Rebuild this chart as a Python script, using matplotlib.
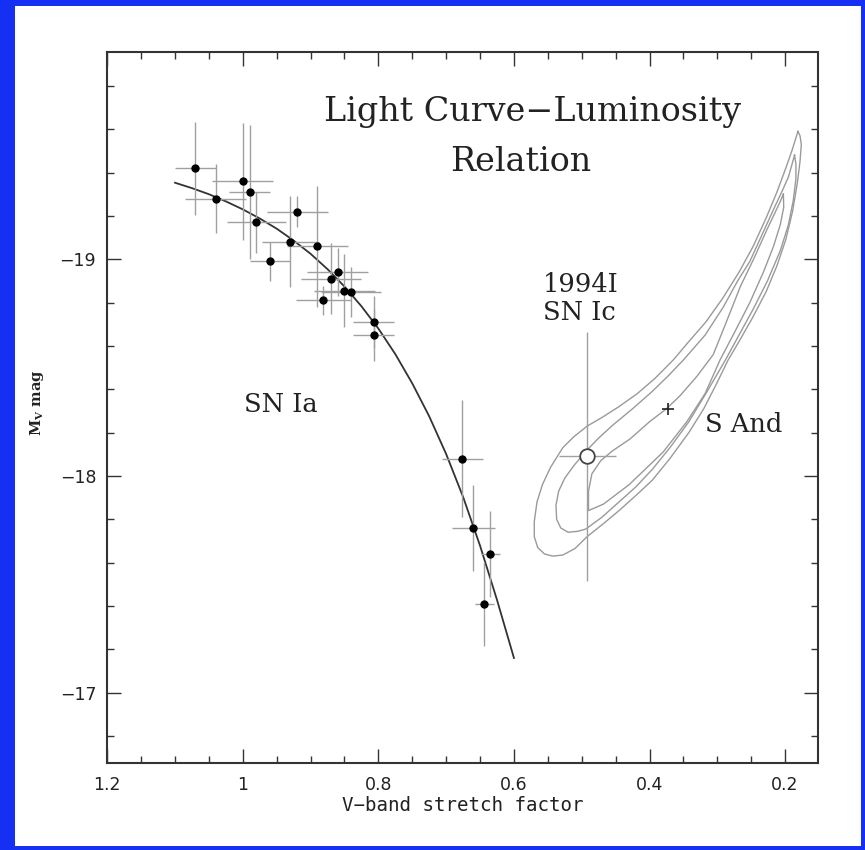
import matplotlib
matplotlib.use("Agg")
import matplotlib.pyplot as plt
from matplotlib.patches import Rectangle
from matplotlib.ticker import MultipleLocator

# SN Ia sample (stretch factor, M_V) with errors
stretch = [1.070, 1.040, 1.000, 0.990, 0.980, 0.960, 0.930, 0.920, 0.890, 0.881,
           0.870, 0.860, 0.850, 0.840, 0.807, 0.807, 0.676, 0.660, 0.635, 0.644]
stretch_err = [0.030, 0.045, 0.045, 0.030, 0.043, 0.030, 0.042, 0.045, 0.045, 0.041,
               0.044, 0.045, 0.045, 0.044, 0.030, 0.030, 0.030, 0.032, 0.014, 0.014]
mag = [-19.42, -19.28, -19.36, -19.31, -19.17, -18.99, -19.08, -19.22, -19.06, -18.81,
       -18.91, -18.94, -18.855, -18.85, -18.71, -18.65, -18.08, -17.76, -17.64, -17.41]
mag_err = [0.215, 0.16, 0.27, 0.31, 0.14, 0.09, 0.21, 0.07, 0.28, 0.067,
           0.165, 0.11, 0.17, 0.115, 0.12, 0.12, 0.27, 0.20, 0.20, 0.195]

# fitted relation
curve_s = [1.100, 1.075, 1.050, 1.025, 1.000, 0.975, 0.950, 0.925, 0.900, 0.875, 0.850,
           0.825, 0.800, 0.775, 0.750, 0.725, 0.700, 0.675, 0.650, 0.625, 0.600]
curve_m = [-19.353, -19.328, -19.300, -19.267, -19.230, -19.188, -19.141, -19.086, -19.025,
           -18.954, -18.874, -18.783, -18.680, -18.562, -18.427, -18.275, -18.101, -17.903,
           -17.678, -17.428, -17.160]

# SN 1994I
ic_s, ic_serr = 0.492, 0.042
ic_m, ic_merr = -18.09, 0.575

# S And best fit
sand_s, sand_m = 0.372, -18.31

# confidence contours for S And
outer_s = [0.181, 0.190, 0.199, 0.212, 0.228, 0.247, 0.268, 0.292, 0.317, 0.342, 0.365,
           0.392, 0.418, 0.445, 0.470, 0.492, 0.512, 0.528, 0.546, 0.558, 0.566, 0.570,
           0.570, 0.565, 0.555, 0.543, 0.528, 0.510, 0.492, 0.468, 0.445, 0.420, 0.396,
           0.370, 0.342, 0.320, 0.302, 0.284, 0.268, 0.248, 0.228, 0.212, 0.199, 0.189,
           0.182, 0.178, 0.176, 0.178, 0.181]
outer_m = [-19.59, -19.50, -19.42, -19.31, -19.19, -19.06, -18.94, -18.82, -18.71, -18.62,
           -18.535, -18.45, -18.38, -18.32, -18.27, -18.23, -18.18, -18.13, -18.04, -17.96,
           -17.88, -17.79, -17.72, -17.67, -17.64, -17.63, -17.635, -17.665, -17.72, -17.78,
           -17.84, -17.91, -17.98, -18.08, -18.20, -18.31, -18.42, -18.535, -18.62, -18.73,
           -18.85, -18.97, -19.09, -19.22, -19.35, -19.45, -19.53, -19.57, -19.59]
mid_s = [0.186, 0.195, 0.205, 0.217, 0.233, 0.252, 0.270, 0.291, 0.318, 0.350, 0.373,
         0.396, 0.425, 0.454, 0.475, 0.492, 0.511, 0.525, 0.534, 0.538, 0.537, 0.531,
         0.520, 0.505, 0.494, 0.470, 0.445, 0.420, 0.396, 0.370, 0.342, 0.315, 0.288,
         0.268, 0.247, 0.226, 0.207, 0.195, 0.188, 0.184, 0.184, 0.186]
mid_m = [-19.48, -19.38, -19.31, -19.23, -19.12, -18.99, -18.90, -18.78, -18.65, -18.535,
         -18.46, -18.39, -18.31, -18.235, -18.175, -18.12, -18.05, -17.99, -17.93, -17.865,
         -17.80, -17.76, -17.74, -17.745, -17.755, -17.81, -17.88, -17.95, -18.03, -18.13,
         -18.25, -18.39, -18.535, -18.65, -18.77, -18.90, -19.04, -19.16, -19.27, -19.37,
         -19.44, -19.48]
inner_s = [0.2025, 0.208, 0.227, 0.245, 0.266, 0.288, 0.306, 0.330, 0.355, 0.375, 0.400,
           0.429, 0.455, 0.472, 0.485, 0.490, 0.490, 0.468, 0.430, 0.380, 0.345, 0.318,
           0.296, 0.275, 0.252, 0.232, 0.217, 0.207, 0.202, 0.2025]
inner_m = [-19.30, -19.26, -19.135, -19.01, -18.874, -18.70, -18.56, -18.46, -18.37, -18.31,
           -18.25, -18.17, -18.115, -18.07, -18.01, -17.93, -17.84, -17.87, -17.96, -18.11,
           -18.25, -18.38, -18.535, -18.66, -18.80, -18.94, -19.06, -19.16, -19.24, -19.30]

fig = plt.figure(figsize=(8.65, 8.5), dpi=100, facecolor="#1530f2")
fig.add_artist(Rectangle((15 / 865, 4 / 850), 846 / 865, 840 / 850,
                         transform=fig.transFigure, facecolor="white",
                         edgecolor="none", zorder=0))

ax = fig.add_axes([0.124, 0.102, 0.822, 0.8365])
ax.set_xlim(1.2, 0.151)
ax.set_ylim(-16.674, -19.955)

for cs, cm in [(outer_s, outer_m), (mid_s, mid_m), (inner_s, inner_m)]:
    ax.plot(cs, cm, color="#9a9a9a", lw=1.0, zorder=1)

ax.plot(curve_s, curve_m, color="#333333", lw=1.3, zorder=2)

ax.errorbar(stretch, mag, xerr=stretch_err, yerr=mag_err, fmt="o", color="black",
            ms=5, ecolor="#a0a0a0", elinewidth=1.0, capsize=0, zorder=3)

ax.errorbar([ic_s], [ic_m], xerr=[ic_serr], yerr=[ic_merr], fmt="o", mfc="white",
            mec="#444444", mew=1.3, ms=10.5, ecolor="#a0a0a0", elinewidth=1.0,
            capsize=0, zorder=4)
ax.plot([sand_s], [sand_m], "+", color="#222222", ms=9, mew=1.2, zorder=4)

serif = "DejaVu Serif"
ax.text(0.572, -19.68, "Light Curve\u2212Luminosity", family=serif, fontsize=24,
        ha="center", va="center", color="#222222")
ax.text(0.590, -19.45, "Relation", family=serif, fontsize=24,
        ha="center", va="center", color="#222222")
ax.text(0.944, -18.33, "SN Ia", family=serif, fontsize=18.5, ha="center", va="center",
        color="#222222")
ax.text(0.501, -18.885, "1994I", family=serif, fontsize=18.5, ha="center", va="center",
        color="#222222")
ax.text(0.503, -18.755, "SN Ic", family=serif, fontsize=18.5, ha="center", va="center",
        color="#222222")
ax.text(0.261, -18.236, "S And", family=serif, fontsize=18.5, ha="center", va="center",
        color="#222222")

ax.xaxis.set_major_locator(MultipleLocator(0.2))
ax.xaxis.set_minor_locator(MultipleLocator(0.05))
ax.yaxis.set_major_locator(MultipleLocator(1))
ax.yaxis.set_minor_locator(MultipleLocator(0.2))
ax.set_xticks([1.2, 1.0, 0.8, 0.6, 0.4, 0.2])
ax.set_xticklabels(["1.2", "1", "0.8", "0.6", "0.4", "0.2"])
ax.tick_params(which="both", direction="in", top=True, right=True,
               color="#333333", width=1.0, labelsize=12.5, labelcolor="#222222")
ax.tick_params(which="major", length=10)
ax.tick_params(which="minor", length=5)
ax.tick_params(axis="x", pad=9)
ax.tick_params(axis="y", pad=8)
for sp in ax.spines.values():
    sp.set_linewidth(1.5)
    sp.set_color("#333333")

ax.set_xlabel("V\u2212band stretch factor", family="DejaVu Sans Mono", fontsize=13.8,
              color="#222222")
ax.xaxis.set_label_coords(0.5, -0.0587)
ax.xaxis.label.set_va("center")
ax.set_ylabel(r"$\mathregular{M_V}$ mag", family=serif, fontsize=10.5,
              fontweight="bold", color="#222222")
ax.yaxis.set_label_coords(-0.099, 0.507)
ax.yaxis.label.set_va("center")

fig.savefig("out.png", dpi=100, facecolor=fig.get_facecolor())
